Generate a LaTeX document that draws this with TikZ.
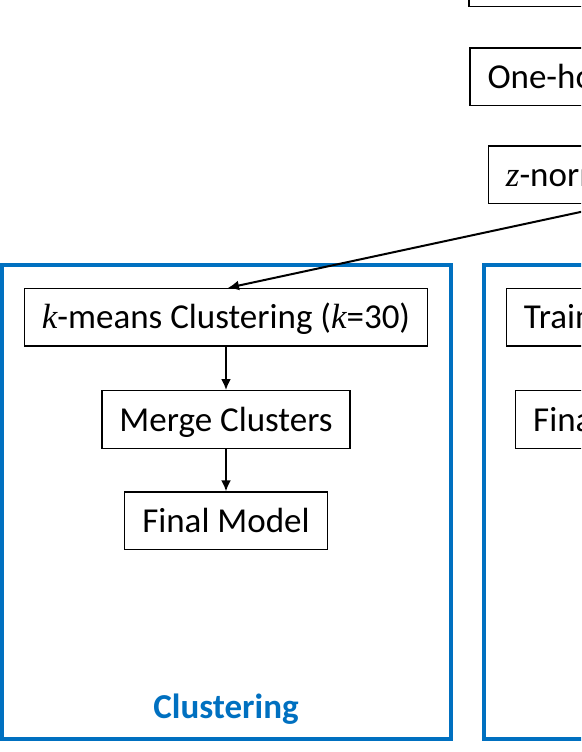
\documentclass[tikz,border=0pt]{standalone}
\usepackage{fontspec}
\setmainfont{Carlito}
\newfontfamily\kursiv{Liberation Serif}
\usepackage{tikz}
\usetikzlibrary{arrows.meta,positioning,calc}
\definecolor{rahmenblau}{RGB}{0,112,192}
\newcommand{\mvar}[1]{{\kursiv\itshape #1}}
\tikzset{
  kasten/.style={draw=black,line width=1.4pt,fill=white,font=\fontsize{35}{42}\selectfont,text height=23pt,text depth=0pt,inner xsep=17.5pt,inner ysep=17.25pt},
  pfeil/.style={line width=2pt,-{Latex[length=11pt,width=10pt]}},
  rahmen/.style={draw=rahmenblau,line width=4pt},
}
\begin{document}
\begin{tikzpicture}[x=1pt,y=-1pt]
\useasboundingbox (0,0) rectangle (581,752);
\clip (0,0) rectangle (581,752);
%Mitte der linken Spalte
  \pgfmathsetmacro{\xm}{226}
%blaue Rahmen
\foreach \xl in {2,484}{
\draw[rahmen] (\xl,265) rectangle ++(449,474);
}
\node[font=\fontsize{35}{42}\selectfont\bfseries,text=rahmenblau] (titelclust) at (\xm,709) {Clustering};
%Vorverarbeitung (rechts abgeschnitten)
\node[kasten,anchor=south west,minimum width=300pt] (daten) at (468.3,7.3) {};
\node[kasten,anchor=west] (onehot) at (469.3,76.7) {One-hot Encoding};
\node[kasten,anchor=west] (znorm) at (487.7,174.9) {\mvar{z}-normalization};
%linke Spalte
\node[kasten] (kmeans) at (\xm,317.3) {\mvar{k}-means Clustering (\mvar{k}=30)};
\node[kasten] (merge) at (\xm,419.5) {Merge Clusters};
\node[kasten] (final) at (\xm,520.8) {Final Model};
%rechte Spalte
\node[kasten,anchor=west] (train) at (505.7,317.3) {Train Classifier};
\node[kasten,anchor=west] (finalb) at (515,419.5) {Final Model};
\draw[pfeil] (daten) -- (onehot);
\draw[pfeil] (onehot) -- (znorm);
\draw[pfeil] (znorm.south) -- ([xshift=2pt]kmeans.north);
\draw[pfeil] (kmeans) -- (merge);
\draw[pfeil] (merge) -- (final);
\draw[pfeil] (train) -- (finalb);
\end{tikzpicture}
\end{document}
